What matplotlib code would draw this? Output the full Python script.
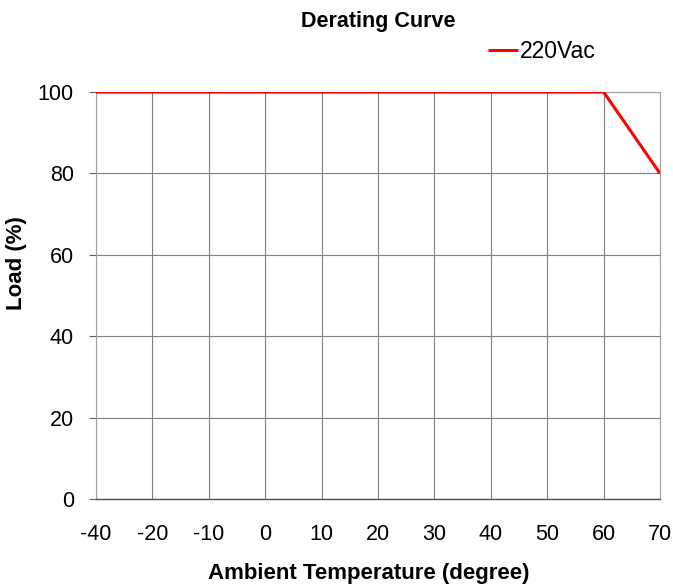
import matplotlib
matplotlib.use("Agg")
import matplotlib.pyplot as plt

temps = ["-40", "-20", "-10", "0", "10", "20", "30", "40", "50", "60", "70"]
load_220 = [100, 100, 100, 100, 100, 100, 100, 100, 100, 100, 80]
yticks = [0, 20, 40, 60, 80, 100]

plt.rcParams['font.family'] = ['Liberation Sans', 'DejaVu Sans']

W, H = 673, 587
fig = plt.figure(figsize=(W / 100, H / 100), dpi=100)
ax = fig.add_axes([96 / W, 1 - 499 / H, (660 - 96) / W, (499 - 92) / H])

x = list(range(len(temps)))
ax.plot(x, load_220, color='#ff0000', lw=2.2, label='220Vac', zorder=3, solid_capstyle='butt')

ax.set_xlim(0, len(temps) - 1)
ax.set_ylim(0, 100)
ax.set_xticks(x)
ax.set_xticklabels(temps)
ax.set_yticks(yticks)
ax.grid(True, color='#808080', lw=0.8)
ax.tick_params(axis='x', length=0, pad=18, labelsize=15.5)
ax.tick_params(axis='y', length=5, width=0.8, color='#606060', pad=11, labelsize=15.5)
for s in ['top', 'right', 'left']:
    ax.spines[s].set_color('#a0a0a0')
    ax.spines[s].set_linewidth(0.8)
ax.spines['bottom'].set_color('#505050')
ax.spines['bottom'].set_linewidth(1.0)

ax.set_xlabel('Ambient Temperature (degree)', fontsize=16, fontweight='bold')
ax.xaxis.set_label_coords((369 - 96) / (660 - 96), -(573 - 499) / (499 - 92))
ax.xaxis.label.set_va('center')
ax.set_ylabel('Load (%)', fontsize=16, fontweight='bold')
ax.yaxis.set_label_coords(-(96 - 17) / (660 - 96), (499 - 263) / (499 - 92))
ax.yaxis.label.set_va('center')
fig.text(378 / W, 1 - 21 / H, 'Derating Curve', ha='center', va='center', fontsize=15.5,
         fontweight='bold')
leg = ax.legend(loc='center left', bbox_to_anchor=((488 - 96) / (660 - 96), 1 + (92 - 52) / (499 - 92)),
                frameon=False, handlelength=1.3, handletextpad=0.1, fontsize=16.5,
                borderaxespad=0, borderpad=0)

fig.savefig('out.png', dpi=100, facecolor='white')
